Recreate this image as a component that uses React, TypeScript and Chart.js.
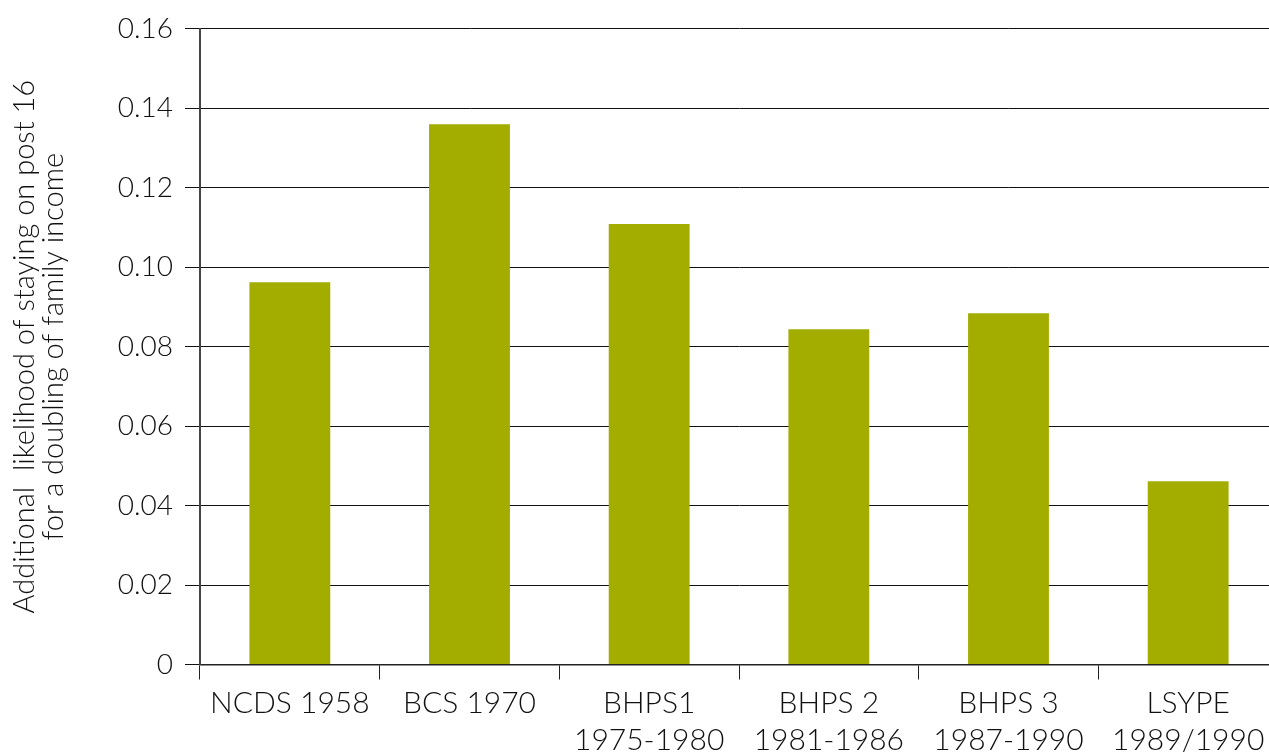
import React, { useEffect, useRef } from "react";
import { Chart, registerables } from "chart.js";

Chart.register(...registerables);

const categories: string[][] = [
  ["NCDS 1958"],
  ["BCS 1970"],
  ["BHPS1", "1975-1980"],
  ["BHPS 2", "1981-1986"],
  ["BHPS 3", "1987-1990"],
  ["LSYPE", "1989/1990"],
];
const values: number[] = [0.0962, 0.136, 0.1109, 0.0844, 0.0884, 0.0461];
const yTitle: string[] = [
  "Additional  likelihood of staying on post 16",
  "for a doubling of family income",
];
const yMin = 0;
const yMax = 0.16;
const yStep = 0.02;

const FONT = "Lato, 'Open Sans', sans-serif";
const TEXT = "#111";

export default function App() {
  const ref = useRef<HTMLCanvasElement | null>(null);
  useEffect(() => {
    if (!ref.current) return;
    const chart = new Chart(ref.current, {
      type: "bar",
      data: {
        labels: categories,
        datasets: [
          {
            data: values,
            backgroundColor: "#a2ad00",
            borderWidth: 0,
            categoryPercentage: 1,
            barPercentage: 0.45,
          },
        ],
      },
      options: {
        responsive: false,
        animation: false,
        devicePixelRatio: 1,
        layout: { padding: { top: 16, right: 0, bottom: 0, left: 0 } },
        plugins: { legend: { display: false }, tooltip: { enabled: false } },
        scales: {
          x: {
            grid: {
              drawOnChartArea: false,
              drawTicks: true,
              tickLength: 15,
              color: "#222",
              lineWidth: 1,
            },
            border: { color: "#222", width: 1.5 },
            ticks: {
              color: TEXT,
              font: { family: FONT, size: 30, weight: "300", lineHeight: 1.22 },
              padding: 6,
              maxRotation: 0,
              autoSkip: false,
            },
            afterFit: (scale: any) => {
              scale.height = 87.5;
            },
          },
          y: {
            min: yMin,
            max: yMax,
            grid: {
              color: "#111",
              lineWidth: 1,
              tickLength: 15,
            },
            border: { color: "#444", width: 2 },
            ticks: {
              stepSize: yStep,
              color: TEXT,
              font: { family: FONT, size: 28, weight: "300" },
              padding: 12,
              callback: (v: any) => (Number(v) === 0 ? "0" : Number(v).toFixed(2)),
            },
            title: {
              display: true,
              text: yTitle,
              color: TEXT,
              font: { family: FONT, size: 29, weight: "300", lineHeight: 1.0 },
              padding: { top: 10, bottom: 0 },
            },
            afterFit: (scale: any) => {
              scale.width = 200;
            },
          },
        },
      },
    });
    return () => chart.destroy();
  }, []);
  return (
    <div
      style={{
        position: "absolute",
        left: 0,
        top: 0,
        width: 1269,
        height: 752,
        overflow: "hidden",
        background: "#fff",
      }}
    >
      <canvas ref={ref} width={1278} height={752} style={{ display: "block" }} />
    </div>
  );
}
